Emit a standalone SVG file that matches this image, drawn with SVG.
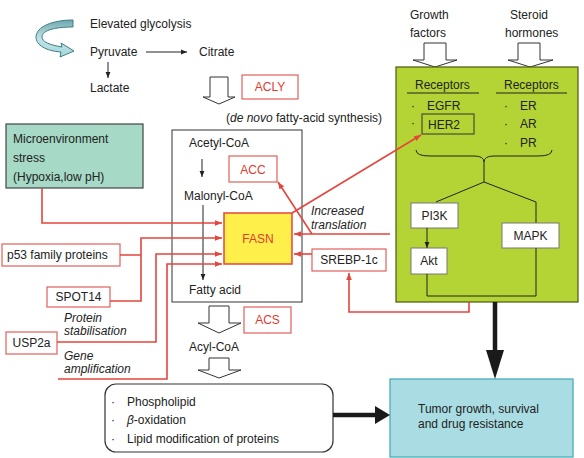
<svg xmlns="http://www.w3.org/2000/svg" width="584" height="458" viewBox="0 0 584 458">
<defs>
<marker id="ab" viewBox="0 0 10 10" refX="10" refY="5" markerWidth="6" markerHeight="6" orient="auto" markerUnits="userSpaceOnUse"><path d="M0,1 L10,5 L0,9 Z" fill="#222"/></marker>
<marker id="ar" viewBox="0 0 10 10" refX="10" refY="5" markerWidth="7" markerHeight="7" orient="auto" markerUnits="userSpaceOnUse"><path d="M0,1 L10,5 L0,9 Z" fill="#E5453C"/></marker>
<linearGradient id="cg" x1="0" y1="0" x2="0" y2="1"><stop offset="0" stop-color="#6FA9AE"/><stop offset="0.5" stop-color="#BFE3E6"/><stop offset="1" stop-color="#A6D8DD"/></linearGradient>
</defs>
<style>
text{font-family:"Liberation Sans",Arial,sans-serif;font-size:12px;fill:#222}
.r{fill:#E23A30}
.it{font-style:italic}
.rb{fill:#fff;stroke:#E0605A;stroke-width:1.2}
.wb{fill:#fff;stroke:#777;stroke-width:1}
.rl{fill:none;stroke:#E5453C;stroke-width:1.6}
.bl{fill:none;stroke:#222;stroke-width:1}
.hol{fill:#fff;stroke:#333;stroke-width:1}
</style>
<rect width="584" height="458" fill="#fff"/>

<g id="glycolysis">
<path d="M73,20 L73,27 C56,27 42,30 42,37 C42,42 50,45 62,47 L61,43 L74,51 L60,57 L61,52 C46,51 36,45 36,37 C36,27 52,20 73,20 Z" fill="url(#cg)" stroke="#3E7D83" stroke-width="1"/>
<text x="90" y="28">Elevated glycolysis</text>
<text x="90" y="56">Pyruvate</text>
<text x="199" y="56">Citrate</text>
<text x="90" y="92">Lactate</text>
</g>

<g id="acly-arrow"><path class="hol" d="M210,77 H228 V97 H235 L219,104 L203,97 H210 Z"/></g>
<g id="acly"><rect class="rb" x="242" y="75" width="56" height="24"/><text class="r" x="270" y="91" text-anchor="middle">ACLY</text></g>
<text x="226" y="122">(<tspan class="it">de novo</tspan> fatty-acid synthesis)</text>

<g id="denovo">
<rect x="172" y="130" width="130" height="172" fill="#fff" stroke="#333" stroke-width="1"/>
<text x="189" y="147">Acetyl-CoA</text>
<text x="184" y="200">Malonyl-CoA</text>
<text x="189" y="294">Fatty acid</text>
</g>
<g id="acc"><rect class="rb" x="229" y="156" width="48" height="26"/><text class="r" x="253" y="174" text-anchor="middle">ACC</text></g>
<g id="fasn"><rect x="224" y="213" width="68" height="51" fill="#FFEF4A" stroke="#E5453C" stroke-width="1.5"/><text class="r" x="258" y="243" text-anchor="middle">FASN</text></g>

<g id="micro"><rect x="6" y="124" width="137" height="64" fill="#A6D9C6" stroke="#444" stroke-width="1.2"/>
<text x="13" y="143">Microenvironment</text><text x="13" y="162">stress</text><text x="13" y="181">(Hypoxia,low pH)</text></g>
<g id="p53"><rect class="rb" x="2" y="244" width="118" height="22"/><text x="7" y="259">p53 family proteins</text></g>
<g id="spot14"><rect class="rb" x="47" y="287" width="63" height="20"/><text x="78.5" y="301" text-anchor="middle">SPOT14</text></g>
<g id="usp2a"><rect class="rb" x="6" y="332" width="51" height="22"/><text x="31.5" y="347" text-anchor="middle">USP2a</text></g>
<text class="it" x="64" y="322">Protein</text><text class="it" x="64" y="335">stabilisation</text>
<text class="it" x="64" y="360">Gene</text><text class="it" x="64" y="373">amplification</text>

<g id="srebp"><rect class="rb" x="312" y="249" width="74" height="22"/><text x="349" y="264" text-anchor="middle">SREBP-1c</text></g>
<text class="it" x="311" y="215">Increased</text><text class="it" x="311" y="229">translation</text>

<g id="acs-arrow"><path class="hol" d="M209,306 H229 V323 H241 L219,333 L198,323 H209 Z"/></g>
<g id="acs"><rect class="rb" x="244" y="307" width="47" height="26"/><text class="r" x="267.5" y="324" text-anchor="middle">ACS</text></g>
<text x="189" y="351">Acyl-CoA</text>
<g id="acyl-arrow"><path class="hol" d="M209,358 H229 V370 H241 L219,378 L198,370 H209 Z"/></g>

<g id="lipids"><rect x="105" y="384" width="228" height="68" rx="11" fill="#fff" stroke="#333" stroke-width="1.2"/>
<text x="111" y="406">·</text><text x="127" y="406">Phospholipid</text>
<text x="111" y="424">·</text><text x="127" y="424"><tspan class="it">β</tspan>-oxidation</text>
<text x="111" y="443">·</text><text x="127" y="443">Lipid modification of proteins</text></g>

<g id="tumor"><rect x="390" y="379" width="183" height="78" fill="#A9DDE3" stroke="#3CAAB5" stroke-width="1.2"/>
<text x="418" y="413">Tumor growth, survival</text><text x="418" y="428">and drug resistance</text></g>

<text x="410" y="19">Growth</text><text x="410" y="37">factors</text>
<text x="510" y="19">Steroid</text><text x="505" y="37">hormones</text>
<g id="gf-arrow"><path class="hol" d="M424,43 H446 V60 H457 L435,67 L413,60 H424 Z"/></g>
<g id="sh-arrow"><path class="hol" d="M518,43 H540 V60 H553 L530,67 L508,60 H518 Z"/></g>

<g id="receptors">
<rect x="396" y="67" width="182" height="235" fill="#B4D334" stroke="#4A5A12" stroke-width="1.2"/>
<text x="415" y="89">Receptors</text><line class="bl" x1="407" y1="93" x2="479" y2="93"/>
<text x="504" y="89">Receptors</text><line class="bl" x1="496" y1="93" x2="567" y2="93"/>
<text x="411" y="110">·</text><text x="427" y="110">EGFR</text>
<text x="411" y="127">·</text><rect x="422" y="114" width="52" height="20" fill="none" stroke="#333" stroke-width="1"/><text x="428" y="129">HER2</text>
<text x="504" y="110">·</text><text x="520" y="110">ER</text>
<text x="504" y="128">·</text><text x="520" y="128">AR</text>
<text x="504" y="147">·</text><text x="520" y="147">PR</text>
<path class="bl" d="M416,150 Q416,156 430,156 H474 Q484,156 484,162 Q484,156 494,156 H538 Q552,156 552,150"/>
<path class="bl" d="M484,162 V182 L436,202 M484,182 L536,202 V223"/>
</g>
<g id="pi3k"><rect class="wb" x="411" y="203" width="47" height="25"/><text x="434.5" y="220" text-anchor="middle">PI3K</text></g>
<g id="akt"><rect class="wb" x="411" y="248" width="36" height="26"/><text x="429" y="265" text-anchor="middle">Akt</text></g>
<g id="mapk"><rect class="wb" x="502" y="223" width="57" height="25"/><text x="530.5" y="240" text-anchor="middle">MAPK</text></g>

<g id="connectors">
<line class="bl" x1="146" y1="52" x2="187" y2="52" marker-end="url(#ab)"/>
<line class="bl" x1="108" y1="62" x2="108" y2="78" marker-end="url(#ab)"/>
<line class="bl" x1="202" y1="159" x2="202" y2="177" marker-end="url(#ab)"/>
<line class="bl" x1="203" y1="205" x2="203" y2="280" marker-end="url(#ab)"/>
<line class="bl" x1="427" y1="228" x2="427" y2="248" marker-end="url(#ab)"/>
<path class="bl" d="M427,274 V296 H536 V248"/>
<path class="rl" d="M42,188 V223 H222" marker-end="url(#ar)"/>
<path class="rl" d="M120,255 H141 M110,301 H141 V238 H222" marker-end="url(#ar)"/>
<path class="rl" d="M57,342 H156 V254 H222" marker-end="url(#ar)"/>
<path class="rl" d="M58,379 H167 V264 H222" marker-end="url(#ar)"/>
<line class="rl" x1="292" y1="213" x2="421" y2="135" marker-end="url(#ar)"/>
<line class="rl" x1="390" y1="234" x2="294" y2="234" marker-end="url(#ar)"/>
<line class="rl" x1="312" y1="234" x2="278" y2="182" marker-end="url(#ar)"/>
<line class="rl" x1="312" y1="254" x2="294" y2="254" marker-end="url(#ar)"/>
<path class="rl" d="M469,302 V312 H349 V273" marker-end="url(#ar)"/>
<line x1="495" y1="302" x2="495" y2="352" stroke="#1a1a1a" stroke-width="4.5"/>
<path d="M486,350 H504 L495,379 Z" fill="#1a1a1a"/>
<line x1="333" y1="415" x2="377" y2="415" stroke="#1a1a1a" stroke-width="4.5"/>
<path d="M375,406 V424 L390,415 Z" fill="#1a1a1a"/>
</g>
</svg>
